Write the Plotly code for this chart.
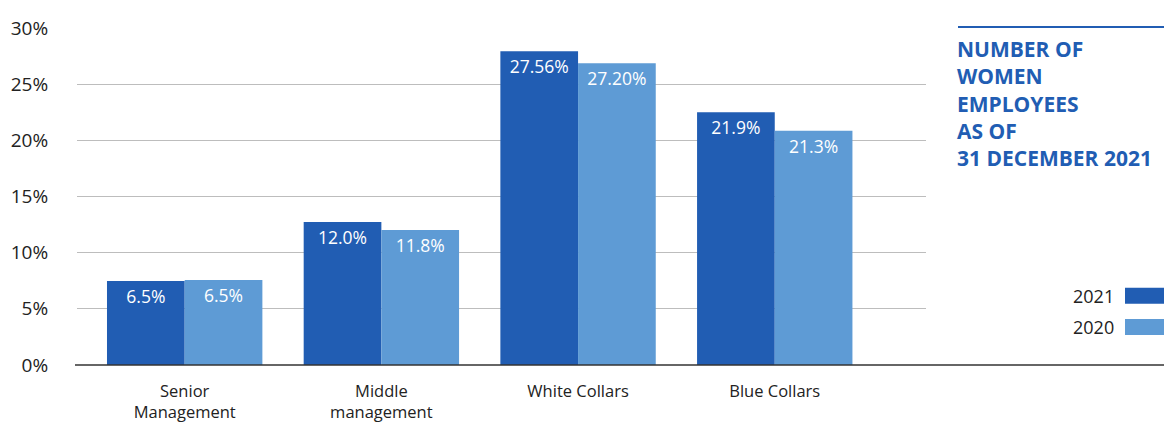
import plotly.graph_objects as go

categories = ["Senior<br>Management", "Middle<br>management", "White Collars", "Blue Collars"]
values_2021 = [7.47, 12.72, 27.94, 22.5]
values_2020 = [7.56, 12.01, 26.87, 20.85]
labels_2021 = ["6.5%", "12.0%", "27.56%", "21.9%"]
labels_2020 = ["6.5%", "11.8%", "27.20%", "21.3%"]
series_names = ["2021", "2020"]
y_ticks = [0, 5, 10, 15, 20, 25, 30]
y_tick_labels = ["0%", "5%", "10%", "15%", "20%", "25%", "30%"]
title_text = "NUMBER OF<br>WOMEN<br>EMPLOYEES<br>AS OF<br>31 DECEMBER 2021"

C21 = "#215DB3"
C20 = "#5E9BD5"
FONT = "Open Sans"

W, H = 1164, 423
L, R, T, B = 77, 238, 28, 58
pw = W - L - R
ph = H - T - B

def px_x(px):
    return (px - L) / pw

def px_y(py):
    return (H - B - py) / ph

fig = go.Figure()
for name, vals, labs, col in [(series_names[0], values_2021, labels_2021, C21),
                              (series_names[1], values_2020, labels_2020, C20)]:
    fig.add_trace(go.Bar(
        name=name, x=categories, y=vals, text=labs,
        marker=dict(color=col, line=dict(width=0)),
        textposition="inside", insidetextanchor="end", textangle=0,
        constraintext="none",
        textfont=dict(color="white", size=17.5, family=FONT),
        hoverinfo="skip",
    ))

fig.update_layout(
    width=W, height=H,
    margin=dict(l=L, r=R, t=T, b=B, autoexpand=False),
    barmode="group", bargap=0.21, bargroupgap=0,
    plot_bgcolor="white", paper_bgcolor="white",
    showlegend=False,
    font=dict(family=FONT, color="#222222"),
    uniformtext=dict(minsize=17, mode="show"),
    xaxis=dict(
        type="category", range=[-0.5475, 3.769], automargin=False,
        showgrid=False, showline=False, zeroline=False,
        ticks="outside", ticklen=11, tickcolor="rgba(0,0,0,0)",
        tickfont=dict(size=16.5, color="#222222", family=FONT),
        fixedrange=True,
    ),
    yaxis=dict(
        range=[0, 30], tickvals=y_ticks, ticktext=y_tick_labels, automargin=False,
        showgrid=True, gridcolor="#BDBDBD", gridwidth=1,
        zeroline=False, showline=False,
        ticks="outside", ticklen=24, tickcolor="rgba(0,0,0,0)",
        tickfont=dict(size=19, color="#222222", family=FONT),
        fixedrange=True,
    ),
)

# baseline axis line extending to the right edge
fig.add_shape(type="line", xref="paper", yref="paper",
              x0=px_x(75), x1=px_x(1164), y0=0, y1=0,
              line=dict(color="#333333", width=1.5), layer="above")

# title rule and title text
fig.add_shape(type="line", xref="paper", yref="paper",
              x0=px_x(958), x1=px_x(1164), y0=px_y(27), y1=px_y(27),
              line=dict(color=C21, width=2))
fig.add_annotation(xref="paper", yref="paper", x=px_x(955), y=px_y(33),
                   xanchor="left", yanchor="top", align="left", showarrow=False,
                   text="<b>" + title_text + "</b>",
                   font=dict(size=21, color=C21, family=FONT))

# custom legend
for name, col, cy in [(series_names[0], C21, 295.7), (series_names[1], C20, 327)]:
    fig.add_annotation(xref="paper", yref="paper", x=px_x(1116), y=px_y(cy),
                       xanchor="right", yanchor="middle", showarrow=False,
                       text=name, font=dict(size=18, color="#222222", family=FONT))
    fig.add_shape(type="rect", xref="paper", yref="paper",
                  x0=px_x(1125), x1=px_x(1164), y0=px_y(cy - 8), y1=px_y(cy + 8),
                  fillcolor=col, line=dict(width=0))

fig.write_html("out.html")
